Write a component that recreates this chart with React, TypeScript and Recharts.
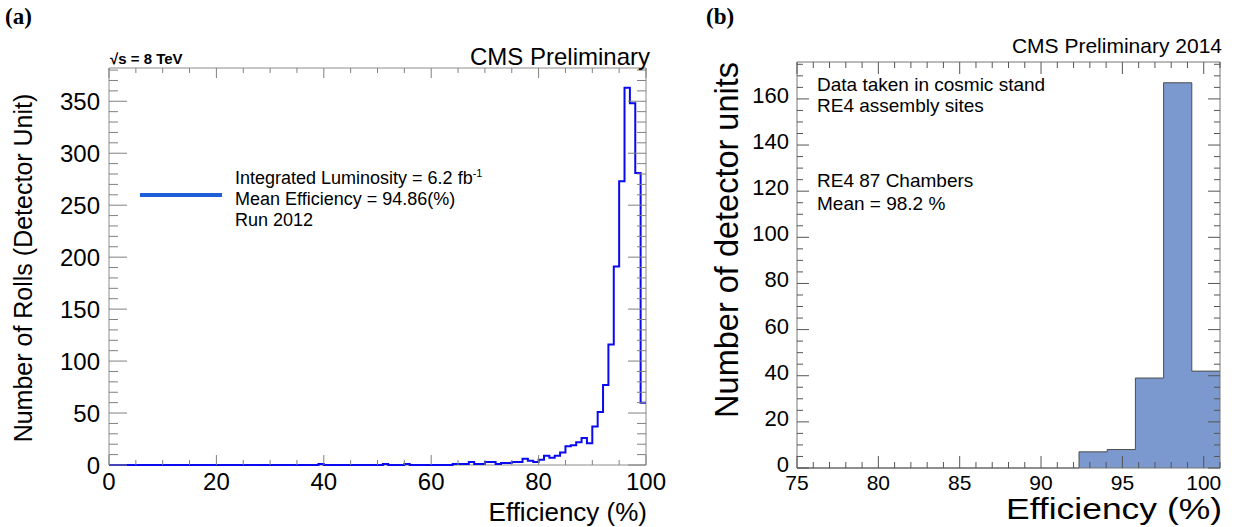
import React from 'react';
import { LineChart, Line, AreaChart, Area, XAxis, YAxis, ReferenceArea, Legend } from 'recharts';

// (a) roll efficiency, 1% bins from 0 to 100 (counts per bin)
const rollCounts = [
  0, 0, 0, 0, 0, 0, 0, 0, 0, 0,
  0, 0, 0, 0, 0, 0, 0, 0, 0, 0,
  0, 0, 0, 0, 0, 0, 0, 0, 0, 0,
  0, 0, 0, 0, 0, 0, 0, 0, 0, 1,
  0, 0, 0, 0, 0, 0, 0, 0, 0, 0,
  0, 1, 0, 0, 0, 1, 0, 0, 0, 0,
  0, 0, 0, 0, 1, 1, 1, 3, 1, 1,
  3, 3, 1, 2, 2, 3, 3, 6, 4, 3,
  5, 9, 7, 9, 12, 18, 19, 22, 26, 21,
  37, 51, 77, 116, 191, 273, 363, 348, 281, 60,
];
const rollBinWidth = 1;
const rollXLabels = [0, 20, 40, 60, 80, 100];
const rollYLabels = [0, 50, 100, 150, 200, 250, 300, 350];

// (b) chamber efficiency, 15 bins from 75 to 101
const chamberMin = 75;
const chamberMax = 101;
const chamberCounts = [0, 0, 0, 0, 0, 0, 0, 0, 0, 0, 7, 8, 39, 167, 42];
const chamberXLabels = [75, 80, 85, 90, 95, 100];
const chamberYLabels = [0, 20, 40, 60, 80, 100, 120, 140, 160];

const range = (a: number, b: number, step: number) => {
  const out: number[] = [];
  for (let v = a; v <= b + 1e-9; v += step) out.push(Math.round(v * 1000) / 1000);
  return out;
};

// step data: one point per lower bin edge plus the closing upper edge
const rollData = rollCounts
  .map((n, i) => ({ x: i * rollBinWidth, n }))
  .concat([{ x: rollCounts.length * rollBinWidth, n: rollCounts[rollCounts.length - 1] }]);

const chamberWidth = (chamberMax - chamberMin) / chamberCounts.length;
const chamberData = chamberCounts
  .map((n, i) => ({ x: chamberMin + i * chamberWidth, n }))
  .concat([{ x: chamberMax, n: chamberCounts[chamberCounts.length - 1] }]);

const SANS = '"Liberation Sans", Arial, sans-serif';

type TickOpts = {
  majors: number[];
  major: number;
  minor: number;
  span: number;
  color: string;
  fontSize: number;
  offset: number;
  lift?: number;
};

const xTick = (o: TickOpts) => (props: any) => {
  const { x, y, payload } = props;
  const isMajor = o.majors.includes(payload.value);
  const len = isMajor ? o.major : o.minor;
  const top = y - o.span;
  return (
    <g>
      <line x1={x} y1={y} x2={x} y2={y - len} stroke={o.color} />
      <line x1={x} y1={top} x2={x} y2={top + len} stroke={o.color} />
      {isMajor && (
        <text x={x} y={y + o.offset} textAnchor="middle" fontSize={o.fontSize} fontFamily={SANS} fill="#000">
          {payload.value}
        </text>
      )}
    </g>
  );
};

const yTick = (o: TickOpts) => (props: any) => {
  const { x, y, payload } = props;
  const isMajor = o.majors.includes(payload.value);
  const len = isMajor ? o.major : o.minor;
  const right = x + o.span;
  return (
    <g>
      <line x1={x} y1={y} x2={x + len} y2={y} stroke={o.color} />
      <line x1={right} y1={y} x2={right - len} y2={y} stroke={o.color} />
      {isMajor && (
        <text
          x={x - o.offset}
          y={y + o.fontSize * 0.36 - (o.lift || 0)}
          textAnchor="end"
          fontSize={o.fontSize}
          fontFamily={SANS}
          fill="#000"
        >
          {payload.value}
        </text>
      )}
    </g>
  );
};

const RollLegend = () => (
  <div style={{ display: 'flex', alignItems: 'center', fontFamily: SANS, fontSize: 18, lineHeight: '21px', color: '#000' }}>
    <div style={{ width: 82, height: 4, background: '#1f5fd8', marginRight: 13, marginTop: -4 }} />
    <div>
      <div>
        Integrated Luminosity = 6.2 fb<sup style={{ fontSize: 11, verticalAlign: 7 }}>-1</sup>
      </div>
      <div>Mean Efficiency = 94.86(%)</div>
      <div>Run 2012</div>
    </div>
  </div>
);

export default function App() {
  return (
    <div style={{ position: 'absolute', left: 0, top: 0, width: 1238, height: 527, background: '#fff', overflow: 'hidden' }}>
      <div style={{ position: 'absolute', left: 0, top: 0 }}>
        <LineChart width={680} height={527} data={rollData} margin={{ top: 68, right: 34, bottom: 0, left: 0 }}>
          <XAxis
            type="number"
            dataKey="x"
            domain={[0, 100]}
            ticks={range(0, 100, 5)}
            interval={0}
            height={62}
            tickSize={0}
            tickMargin={0}
            tickLine={false}
            axisLine={false}
            tick={xTick({ majors: rollXLabels, major: 10, minor: 5, span: 397, color: '#808080', fontSize: 24, offset: 25 })}
          />
          <YAxis
            type="number"
            domain={[0, 382]}
            ticks={range(0, 380, 10)}
            interval={0}
            width={109}
            tickSize={0}
            tickMargin={0}
            tickLine={false}
            axisLine={false}
            tick={yTick({ majors: rollYLabels, major: 18, minor: 9, span: 537, color: '#808080', fontSize: 24, offset: 9 })}
          />
          <ReferenceArea x1={0} x2={100} y1={0} y2={382} fill="none" stroke="#8c8c8c" strokeWidth={1} />
          <Line
            type="stepAfter"
            dataKey="n"
            stroke="#0a0af0"
            strokeWidth={2}
            dot={false}
            isAnimationActive={false}
          />
          <Legend
            layout="vertical"
            align="center"
            verticalAlign="middle"
            wrapperStyle={{ left: 140, top: 163, width: 420 }}
            content={() => <RollLegend />}
          />
        </LineChart>
      </div>

      <div style={{ position: 'absolute', left: 700, top: 0 }}>
        <AreaChart width={538} height={527} data={chamberData} margin={{ top: 62, right: 18, bottom: 0, left: 0 }}>
          <XAxis
            type="number"
            dataKey="x"
            domain={[chamberMin, chamberMax]}
            ticks={range(75, 101, 1)}
            interval={0}
            height={59}
            tickSize={0}
            tickMargin={0}
            tickLine={false}
            axisLine={false}
            tick={xTick({ majors: chamberXLabels, major: 12, minor: 6, span: 406, color: '#555', fontSize: 21, offset: 22 })}
          />
          <YAxis
            type="number"
            domain={[0, 176]}
            ticks={range(0, 175, 5)}
            interval={0}
            width={97}
            tickSize={0}
            tickMargin={0}
            tickLine={false}
            axisLine={false}
            tick={yTick({ majors: chamberYLabels, major: 12, minor: 6, span: 423, color: '#555', fontSize: 22, offset: 8, lift: 4 })}
          />
          <Area
            type="stepAfter"
            dataKey="n"
            stroke="#4d4d4d"
            strokeWidth={1}
            fill="#7b98cf"
            fillOpacity={1}
            dot={false}
            isAnimationActive={false}
          />
          <ReferenceArea x1={chamberMin} x2={chamberMax} y1={0} y2={176} fill="none" stroke="#777" strokeWidth={1} />
        </AreaChart>
      </div>

      <svg width={1238} height={527} style={{ position: 'absolute', left: 0, top: 0, pointerEvents: 'none' }}>
        <g fontFamily='"Liberation Serif", serif' fontWeight="bold" fontSize={23} fill="#000">
          <text x={5} y={24}>(a)</text>
          <text x={706} y={24}>(b)</text>
        </g>
        <g fontFamily={SANS} fill="#000">
          <text x={110} y={64} fontSize={15} fontWeight="bold">√s = 8 TeV</text>
          <text x={650} y={65} fontSize={24} textAnchor="end">CMS Preliminary</text>
          <text transform="translate(32, 268) rotate(-90)" fontSize={25} textAnchor="middle">
            Number of Rolls (Detector Unit)
          </text>
          <text x={647} y={521} fontSize={26} textAnchor="end">Efficiency (%)</text>

          <text x={1222} y={53} fontSize={21} textAnchor="end">CMS Preliminary 2014</text>
          <text x={817} y={91} fontSize={19}>Data taken in cosmic stand</text>
          <text x={817} y={112} fontSize={19}>RE4 assembly sites</text>
          <text x={817} y={187} fontSize={19}>RE4 87 Chambers</text>
          <text x={817} y={210} fontSize={19}>Mean = 98.2 %</text>
          <text transform="translate(738, 62) rotate(-90)" fontSize={32.5} textAnchor="end">
            Number of detector units
          </text>
          <text x={1222} y={519} fontSize={30} textAnchor="end" textLength={216} lengthAdjust="spacingAndGlyphs">
            Efficiency (%)
          </text>
        </g>
      </svg>
    </div>
  );
}
